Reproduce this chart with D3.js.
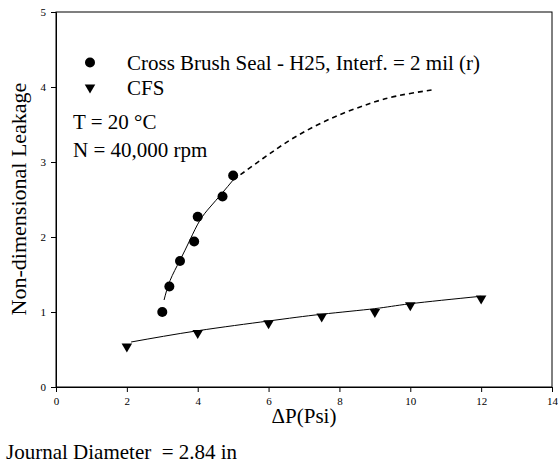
<!DOCTYPE html>
<html>
<head>
<meta charset="utf-8">
<script src="https://cdn.jsdelivr.net/npm/d3@7"></script>
<style>
  html, body { margin: 0; padding: 0; background: #fff; }
  svg { display: block; }
  text { font-family: "Liberation Serif", "Times New Roman", serif; fill: #000; }
</style>
</head>
<body>
<svg id="chart" width="558" height="464"></svg>
<script>
// ---- data ----
const xTicks = [0, 2, 4, 6, 8, 10, 12, 14];
const yTicks = [0, 1, 2, 3, 4, 5];

const brushX = [3.0, 3.2, 3.5, 3.9, 4.0, 4.7, 5.0];
const brushY = [1.00, 1.34, 1.68, 1.94, 2.27, 2.54, 2.82];

const cfsX = [2, 4, 6, 7.5, 9, 10, 12];
const cfsY = [0.54, 0.72, 0.85, 0.94, 1.00, 1.09, 1.18];

// fitted curves
const brushFitX = [3.05, 3.22, 3.5, 3.78, 4.06, 4.35, 4.68, 5.0];
const brushFitY = [1.16, 1.42, 1.69, 1.96, 2.22, 2.40, 2.58, 2.76];
const brushExtX = [5.0, 5.85, 6.6, 7.36, 8.11, 8.86, 9.62, 10.6];
const brushExtY = [2.76, 3.05, 3.29, 3.49, 3.65, 3.78, 3.88, 3.96];

const cfsFitX = [2.12, 4, 6, 7.5, 9, 10, 12];
const cfsFitY = [0.60, 0.75, 0.88, 0.97, 1.045, 1.11, 1.21];

const legendLabels = ["Cross Brush Seal - H25, Interf. = 2 mil (r)", "CFS"];

// ---- layout ----
const svg = d3.select("#chart");
const L = 56, R = 552, T = 12, B = 387;
const x = d3.scaleLinear().domain([0, 14]).range([L, R]);
const y = d3.scaleLinear().domain([0, 5]).range([B, T]);
const serif = '"Liberation Serif", "Times New Roman", serif';

// frame
svg.append("rect").attr("x", L).attr("y", T).attr("width", R - L).attr("height", B - T)
  .attr("fill", "none").attr("stroke", "#000").attr("stroke-width", 1);

const xAxis = svg.append("g").attr("transform", `translate(0,${B})`)
  .call(d3.axisBottom(x).tickValues(xTicks).tickSize(5).tickPadding(5).tickFormat(d3.format("d")));
const yAxis = svg.append("g").attr("transform", `translate(${L},0)`)
  .call(d3.axisLeft(y).tickValues(yTicks).tickSize(5).tickPadding(5).tickFormat(d3.format("d")));
[xAxis, yAxis].forEach(g => {
  g.attr("font-family", serif).attr("font-size", 11);
  g.select(".domain").attr("stroke", "#000");
  g.selectAll(".tick line").attr("stroke", "#000");
  g.selectAll(".tick text").attr("fill", "#000");
});

// fit lines
const line = d3.line().x(d => x(d[0])).y(d => y(d[1])).curve(d3.curveNatural);
svg.append("path").datum(d3.zip(brushFitX, brushFitY)).attr("d", line)
  .attr("fill", "none").attr("stroke", "#000").attr("stroke-width", 1);
svg.append("path").datum(d3.zip(brushExtX, brushExtY)).attr("d", line)
  .attr("fill", "none").attr("stroke", "#000").attr("stroke-width", 1.6).attr("stroke-dasharray", "5,4");
svg.append("path").datum(d3.zip(cfsFitX, cfsFitY)).attr("d", line)
  .attr("fill", "none").attr("stroke", "#000").attr("stroke-width", 1);

// markers
svg.append("g").selectAll("circle").data(d3.zip(brushX, brushY)).join("circle")
  .attr("cx", d => x(d[0])).attr("cy", d => y(d[1])).attr("r", 5).attr("fill", "#000");
const tri = d3.symbol().type(d3.symbolTriangle).size(48);
svg.append("g").selectAll("path").data(d3.zip(cfsX, cfsY)).join("path")
  .attr("d", tri).attr("fill", "#000")
  .attr("transform", d => `translate(${x(d[0])},${y(d[1])}) rotate(180)`);

// legend
svg.append("circle").attr("cx", 90).attr("cy", 62.5).attr("r", 5).attr("fill", "#000");
svg.append("path").attr("d", tri).attr("fill", "#000").attr("transform", "translate(90,87.5) rotate(180)");
svg.append("text").attr("x", 127).attr("y", 70).style("font-size", "21px").text(legendLabels[0]);
svg.append("text").attr("x", 127).attr("y", 95).style("font-size", "21px").text(legendLabels[1]);

svg.append("text").attr("x", 73).attr("y", 129).style("font-size", "21px").text("T = 20 °C");
svg.append("text").attr("x", 73).attr("y", 157).style("font-size", "21px").text("N = 40,000 rpm");

// axis titles
svg.append("text").attr("transform", "translate(26,199) rotate(-90)").attr("text-anchor", "middle")
  .style("font-size", "22px").text("Non-dimensional Leakage");
svg.append("text").attr("x", 304).attr("y", 423).attr("text-anchor", "middle")
  .style("font-size", "21px").text("ΔP(Psi)");
svg.append("text").attr("x", 6).attr("y", 459).style("font-size", "21px")
  .style("white-space", "pre").text("Journal Diameter  = 2.84 in");
</script>
</body>
</html>
